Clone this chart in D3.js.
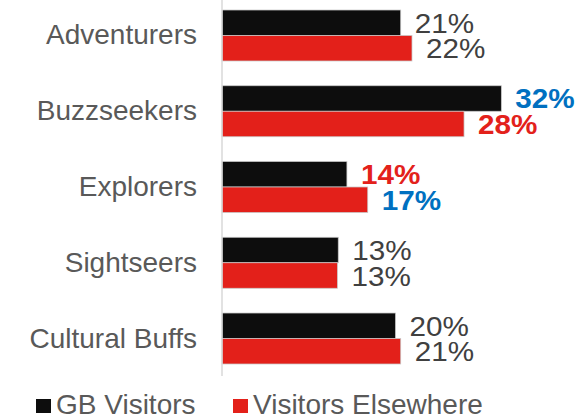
<!DOCTYPE html>
<html>
<head>
<meta charset="utf-8">
<script src="https://cdn.jsdelivr.net/npm/d3@7"></script>
<style>
  body { margin: 0; background: #fff; }
  svg { display: block; font-family: "Liberation Sans", Arial, sans-serif; }
</style>
</head>
<body>
<svg id="chart" width="582" height="419"></svg>
<script>
// segments, top to bottom
var categories = ["Adventurers", "Buzzseekers", "Explorers", "Sightseers", "Cultural Buffs"];
var seriesNames = ["GB Visitors", "Visitors Elsewhere"];
// share of visitors (labels are rounded)
var gbVisitors = [0.206, 0.322, 0.144, 0.134, 0.200];
var elsewhereVisitors = [0.219, 0.279, 0.168, 0.133, 0.206];
// highlighted labels: colour per series per category (null = plain)
var gbHighlight = [null, "#0070C0", "#E3211B", null, null];
var elsewhereHighlight = [null, "#E3211B", "#0070C0", null, null];

var barColors = ["#0d0d0d", "#E3201A"];

var svg = d3.select("#chart");

var x = d3.scaleLinear()
	.domain([0, 0.40])
	.range([222, 569]);

var y = d3.scaleBand()
	.domain(categories)
	.range([0, 374])
	.paddingInner(0.327)
	.paddingOuter(0.132);

var sub = d3.scaleBand()
	.domain(seriesNames)
	.range([0, y.bandwidth()]);

var rows = categories.map(function(c, i) {
	return {
		cat: c,
		values: [
			{ s: seriesNames[0], v: gbVisitors[i], hl: gbHighlight[i] },
			{ s: seriesNames[1], v: elsewhereVisitors[i], hl: elsewhereHighlight[i] }
		]
	};
});

// category labels
svg.append("g")
	.selectAll("text")
	.data(categories)
	.enter()
	.append("text")
	.attr("x", 197)
	.attr("y", function(d) { return y(d) + y.bandwidth() / 2 + 9; })
	.attr("text-anchor", "end")
	.attr("font-size", "28px")
	.attr("fill", "#595959")
	.text(function(d) { return d; });

var groups = svg.append("g")
	.selectAll("g")
	.data(rows)
	.enter()
	.append("g")
	.attr("transform", function(d) { return "translate(0," + y(d.cat) + ")"; });

groups.selectAll("rect")
	.data(function(d) { return d.values; })
	.enter()
	.append("rect")
	.attr("x", x(0))
	.attr("y", function(d) { return sub(d.s); })
	.attr("width", function(d) { return x(d.v) - x(0); })
	.attr("height", sub.bandwidth())
	.attr("fill", function(d, i) { return barColors[i]; })
	.attr("stroke", "#c8c8c8")
	.attr("stroke-width", 0.75);

// value labels, slightly wide like the original
groups.selectAll("text")
	.data(function(d) { return d.values; })
	.enter()
	.append("text")
	.attr("transform", function(d) {
		return "translate(" + (x(d.v) + 14) + "," + (sub(d.s) + sub.bandwidth() / 2 + 10) + ") scale(1.06,1)";
	})
	.attr("font-size", "28px")
	.attr("font-weight", function(d) { return d.hl ? "bold" : "normal"; })
	.attr("fill", function(d) { return d.hl || "#404040"; })
	.text(function(d) { return Math.round(d.v * 100) + "%"; });

// vertical axis line
svg.append("line")
	.attr("x1", x(0)).attr("x2", x(0))
	.attr("y1", 0).attr("y2", 376)
	.attr("stroke", "#d9d9d9")
	.attr("stroke-width", 1.5);

// legend
var legendX = [36, 233];
var legend = svg.append("g")
	.selectAll("g")
	.data(seriesNames)
	.enter()
	.append("g")
	.attr("transform", function(d, i) { return "translate(" + legendX[i] + ",399)"; });

legend.append("rect")
	.attr("width", 15)
	.attr("height", 14)
	.attr("fill", function(d, i) { return barColors[i]; });

legend.append("text")
	.attr("x", 20)
	.attr("y", 15)
	.attr("font-size", "28px")
	.attr("fill", "#595959")
	.text(function(d) { return d; });
</script>
</body>
</html>
